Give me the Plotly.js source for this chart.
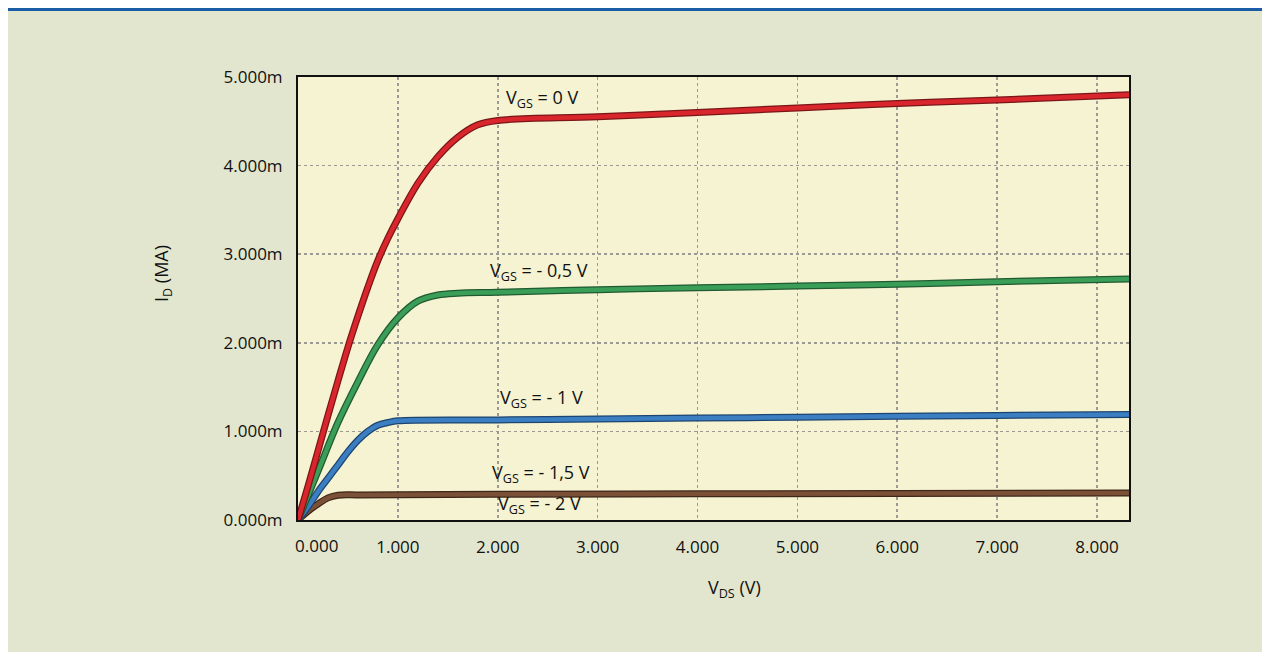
<!DOCTYPE html>
<html>
<head>
<meta charset="utf-8">
<script src="https://cdn.plot.ly/plotly-3.0.1.min.js"></script>
<style>html,body{margin:0;padding:0;background:#fff;}#chart{width:1262px;height:652px;}</style>
</head>
<body>
<div id="chart"></div>
<script>
// V_DS (V) and I_D (mA) per gate voltage
const vds0 = [0, 0.1, 0.2, 0.3, 0.4, 0.5, 0.6, 0.7, 0.8, 0.9, 1.0, 1.2, 1.4, 1.6, 1.8, 2.0, 3.0, 4.0, 5.0, 6.0, 7.0, 8.32];
const id0  = [0, 0.38, 0.78, 1.18, 1.57, 1.95, 2.3, 2.63, 2.93, 3.18, 3.4, 3.8, 4.1, 4.32, 4.46, 4.51, 4.55, 4.6, 4.65, 4.7, 4.74, 4.8];
const vds05 = [0, 0.2, 0.4, 0.6, 0.8, 1.0, 1.2, 1.4, 1.6, 2.0, 3.0, 4.0, 5.0, 6.0, 7.0, 8.32];
const id05  = [0, 0.55, 1.1, 1.56, 1.98, 2.28, 2.47, 2.54, 2.56, 2.57, 2.6, 2.62, 2.64, 2.66, 2.69, 2.72];
const vds1 = [0, 0.1, 0.2, 0.3, 0.4, 0.5, 0.6, 0.7, 0.8, 0.9, 1.0, 2.0, 3.0, 4.0, 5.0, 6.0, 7.0, 8.32];
const id1  = [0, 0.15, 0.32, 0.47, 0.62, 0.77, 0.9, 1.0, 1.07, 1.1, 1.12, 1.13, 1.14, 1.15, 1.16, 1.17, 1.18, 1.19];
const vds15 = [0, 0.1, 0.2, 0.3, 0.4, 0.6, 1.0, 2.0, 4.0, 6.0, 8.32];
const id15  = [0, 0.1, 0.18, 0.25, 0.28, 0.283, 0.285, 0.29, 0.295, 0.3, 0.305];

const seriesNames = ['V<sub>GS</sub> = 0 V', 'V<sub>GS</sub> = - 0,5 V', 'V<sub>GS</sub> = - 1 V', 'V<sub>GS</sub> = - 1,5 V'];
const mainColors = ['#d8262c', '#3b9e58', '#3b7fc2', '#7a5037'];
const edgeColors = ['#7a1518', '#1f5a31', '#1d4470', '#3e2619'];

const labelText = ['V<sub>GS</sub> = 0 V', 'V<sub>GS</sub> = - 0,5 V', 'V<sub>GS</sub> = - 1 V', 'V<sub>GS</sub> = - 1,5 V', 'V<sub>GS</sub> = - 2 V'];
const labelX = [2.44, 2.41, 2.44, 2.43, 2.42];
const labelY = [4.76, 2.80, 1.37, 0.52, 0.17];

const xTicks = [1, 2, 3, 4, 5, 6, 7, 8];
const xTickText = ['1.000', '2.000', '3.000', '4.000', '5.000', '6.000', '7.000', '8.000'];
const yTicks = [0, 1, 2, 3, 4, 5];
const yTickText = ['0.000m', '1.000m', '2.000m', '3.000m', '4.000m', '5.000m'];

const xs = [vds0, vds05, vds1, vds15];
const ys = [id0, id05, id1, id15];

const traces = [];
for (let i = xs.length - 1; i >= 0; i--) {
  traces.push({x: xs[i], y: ys[i], mode: 'lines', line: {color: edgeColors[i], width: 7, shape: 'spline', smoothing: 1}, hoverinfo: 'skip', showlegend: false});
  traces.push({x: xs[i], y: ys[i], mode: 'lines', name: seriesNames[i], line: {color: mainColors[i], width: 4.5, shape: 'spline', smoothing: 1}, showlegend: false});
}

const W = 1262, H = 652, L = 298, R = 133, T = 77, B = 132;
const pw = W - L - R, ph = H - T - B;
const px = v => (v - L) / pw;
const py = v => 1 - (v - T) / ph;

const font = "'Open Sans', 'Noto Sans', sans-serif";
const annotations = labelText.map((t, i) => ({
  x: labelX[i], y: labelY[i], xref: 'x', yref: 'y', text: t, showarrow: false,
  xanchor: 'center', yanchor: 'middle', font: {family: font, size: 18, color: '#111'}
}));
annotations.push({x: 0, y: 0, xref: 'x', yref: 'y', text: '0.000', showarrow: false, xanchor: 'center', yanchor: 'top', xshift: 18, yshift: -12, font: {family: font, size: 17, color: '#111'}});
annotations.push({x: px(162), y: py(274), xref: 'paper', yref: 'paper', text: 'I<sub>D</sub> (MA)', textangle: -90, showarrow: false, xanchor: 'center', yanchor: 'middle', font: {family: font, size: 18, color: '#111'}});
annotations.push({x: px(734), y: py(588), xref: 'paper', yref: 'paper', text: 'V<sub>DS</sub> (V)', showarrow: false, xanchor: 'center', yanchor: 'middle', font: {family: font, size: 18, color: '#111'}});

const layout = {
  width: W, height: H,
  margin: {l: L, r: R, t: T, b: B},
  paper_bgcolor: 'rgba(0,0,0,0)',
  plot_bgcolor: '#f5f3d1',
  showlegend: false,
  font: {family: font, size: 17, color: '#111'},
  xaxis: {
    range: [0, 8.32], tickmode: 'array', tickvals: xTicks, ticktext: xTickText,
    showgrid: true, gridcolor: '#9a9a92', griddash: 'dot', gridwidth: 1.6,
    showline: true, linecolor: '#111', linewidth: 2, mirror: true, zeroline: false,
    ticks: '', ticklabelstandoff: 11, tickfont: {family: font, size: 17, color: '#111'}
  },
  yaxis: {
    range: [0, 5], tickmode: 'array', tickvals: yTicks, ticktext: yTickText,
    showgrid: true, gridcolor: '#9a9a92', griddash: 'dot', gridwidth: 1.6,
    showline: true, linecolor: '#111', linewidth: 2, mirror: true, zeroline: false,
    ticks: '', ticklabelstandoff: 10, tickfont: {family: font, size: 17, color: '#111'}
  },
  shapes: [
    {type: 'rect', xref: 'paper', yref: 'paper', x0: px(8), x1: px(W), y0: py(H), y1: py(10), layer: 'below', line: {width: 0}, fillcolor: '#e3e6ce'},
    {type: 'rect', xref: 'paper', yref: 'paper', x0: px(8), x1: px(W), y0: py(11), y1: py(8), layer: 'below', line: {width: 0}, fillcolor: '#1a5da6'},
    {type: 'rect', xref: 'paper', yref: 'paper', x0: 0, x1: 1, y0: 0, y1: 1, layer: 'below', line: {width: 0}, fillcolor: '#f5f3d1'}
  ],
  annotations: annotations
};

Plotly.newPlot('chart', traces, layout, {displayModeBar: false, staticPlot: true});
</script>
</body>
</html>
